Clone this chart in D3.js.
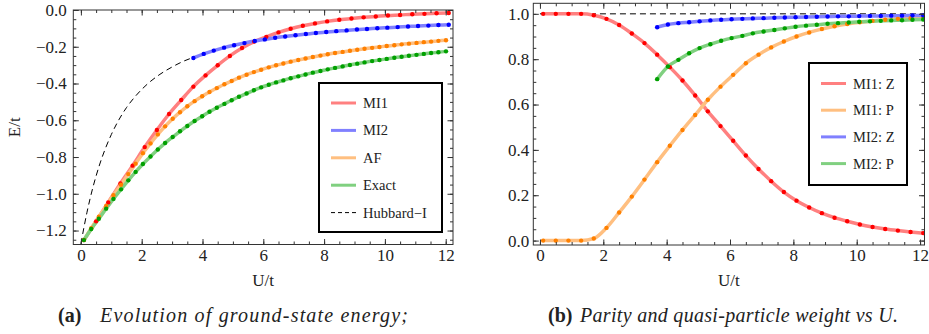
<!DOCTYPE html>
<html>
<head>
<meta charset="utf-8">
<script src="https://cdn.jsdelivr.net/npm/d3@7"></script>
<style>
  body { margin: 0; background: #fff; }
  svg text { font-family: "Liberation Serif", "Times New Roman", serif; fill: #222; }
</style>
</head>
<body>
<svg id="chart" width="929" height="334"></svg>
<script>
// ---- panel (a): ground-state energy E/t vs U/t ----
var uDense = [0.10, 0.34, 0.59, 0.83, 1.07, 1.32, 1.56, 1.80, 2.04, 2.29,
              2.53, 2.77, 3.02, 3.26, 3.50, 3.74, 3.99, 4.23, 4.47, 4.72,
              4.96, 5.20, 5.45, 5.69, 5.93, 6.18, 6.42, 6.66, 6.90, 7.15,
              7.39, 7.63, 7.88, 8.12, 8.36, 8.61, 8.85, 9.09, 9.33, 9.58,
              9.82, 10.06, 10.31, 10.55, 10.79, 11.04, 11.28, 11.52, 11.76, 12.01];
var eExact = [-1.252, -1.192, -1.136, -1.081, -1.028, -0.976, -0.927, -0.881, -0.838, -0.797,
              -0.759, -0.724, -0.691, -0.660, -0.631, -0.604, -0.578, -0.554, -0.532, -0.511,
              -0.491, -0.472, -0.454, -0.437, -0.421, -0.407, -0.394, -0.383, -0.371, -0.361,
              -0.351, -0.341, -0.332, -0.323, -0.315, -0.307, -0.299, -0.292, -0.285, -0.278,
              -0.272, -0.266, -0.260, -0.254, -0.249, -0.244, -0.239, -0.234, -0.230, -0.225];
var eAF = [-1.252, -1.187, -1.125, -1.066, -1.008, -0.951, -0.893, -0.836, -0.779, -0.726,
           -0.677, -0.633, -0.592, -0.556, -0.524, -0.496, -0.469, -0.446, -0.425, -0.404,
           -0.386, -0.368, -0.352, -0.338, -0.325, -0.312, -0.301, -0.291, -0.281, -0.272,
           -0.264, -0.256, -0.248, -0.241, -0.234, -0.228, -0.222, -0.216, -0.211, -0.206,
           -0.201, -0.196, -0.192, -0.187, -0.183, -0.179, -0.175, -0.172, -0.168, -0.165];
var uMI1 = [0.1, 0.5, 0.9, 1.3, 1.7, 2.1, 2.5, 2.9, 3.3, 3.7, 4.1, 4.5, 4.9, 5.3, 5.7, 6.1,
            6.5, 6.9, 7.3, 7.7, 8.1, 8.5, 8.9, 9.3, 9.7, 10.1, 10.5, 10.9, 11.3, 11.7, 12.1];
var eMI1 = [-1.252, -1.150, -1.047, -0.944, -0.847, -0.746, -0.653, -0.566, -0.490, -0.417,
            -0.356, -0.301, -0.250, -0.207, -0.172, -0.146, -0.122, -0.102, -0.086, -0.073,
            -0.062, -0.053, -0.046, -0.040, -0.035, -0.030, -0.027, -0.023, -0.021, -0.018, -0.016];
var uMI2 = [3.70, 4.04, 4.37, 4.71, 5.04, 5.38, 5.72, 6.05, 6.39, 6.72, 7.06, 7.40, 7.73,
            8.07, 8.40, 8.74, 9.08, 9.41, 9.75, 10.08, 10.42, 10.76, 11.09, 11.43, 11.76, 12.10];
var eMI2 = [-0.261, -0.239, -0.221, -0.205, -0.192, -0.180, -0.169, -0.160, -0.151, -0.144,
            -0.137, -0.131, -0.125, -0.120, -0.115, -0.111, -0.106, -0.103, -0.099, -0.096,
            -0.093, -0.090, -0.087, -0.085, -0.082, -0.080];
var uHub = [0, 0.1, 0.2, 0.3, 0.4, 0.5, 0.6, 0.8, 1.0, 1.2, 1.5, 1.8, 2.2, 2.6, 3.0, 3.4, 3.7];
var eHub = [-1.273, -1.183, -1.101, -1.028, -0.962, -0.903, -0.849, -0.756, -0.678, -0.612,
            -0.531, -0.468, -0.401, -0.350, -0.310, -0.277, -0.258];

// ---- panel (b): parity Z and quasi-particle weight P vs U/t ----
var zMI1 = [1.000, 1.000, 1.000, 1.000, 0.994, 0.978, 0.951, 0.913, 0.871, 0.820, 0.765,
            0.706, 0.640, 0.570, 0.505, 0.440, 0.375, 0.316, 0.262, 0.214, 0.176, 0.146,
            0.121, 0.101, 0.085, 0.071, 0.060, 0.051, 0.044, 0.038, 0.033];
var pMI1 = [0.000, 0.000, 0.000, 0.000, 0.009, 0.056, 0.124, 0.194, 0.269, 0.346, 0.418,
            0.488, 0.554, 0.621, 0.679, 0.731, 0.782, 0.820, 0.852, 0.878, 0.900, 0.918,
            0.933, 0.945, 0.955, 0.963, 0.969, 0.974, 0.978, 0.981, 0.983];
var zMI2 = [0.941, 0.953, 0.959, 0.963, 0.967, 0.971, 0.974, 0.976, 0.978, 0.980, 0.981,
            0.983, 0.984, 0.985, 0.986, 0.987, 0.988, 0.989, 0.989, 0.990, 0.991, 0.991,
            0.992, 0.992, 0.993, 0.993];
var pMI2 = [0.712, 0.768, 0.797, 0.826, 0.849, 0.866, 0.881, 0.893, 0.903, 0.914, 0.922,
            0.929, 0.936, 0.943, 0.948, 0.952, 0.956, 0.959, 0.962, 0.965, 0.967, 0.969,
            0.971, 0.972, 0.974, 0.975];
var uRef = [0, 12.2];
var zRef = [1, 1];

// ticks
var xMajor = [0, 2, 4, 6, 8, 10, 12];
var xMinor = d3.range(0, 12.01, 0.5);
var yMajorA = [-1.2, -1.0, -0.8, -0.6, -0.4, -0.2, 0.0];
var yMinorA = d3.range(-1.25, 0.001, 0.05);
var yMajorB = [0.0, 0.2, 0.4, 0.6, 0.8, 1.0];
var yMinorB = d3.range(0, 1.001, 0.05);

var labelsA = ["MI1", "MI2", "AF", "Exact", "Hubbard\u2212I"];
var labelsB = ["MI1: Z", "MI1: P", "MI2: Z", "MI2: P"];

var red = { line: "#ff8080", dot: "#ff0000" },
    blue = { line: "#8080ff", dot: "#0000ff" },
    orange = { line: "#ffbf80", dot: "#ff8000" },
    green = { line: "#80d080", dot: "#00a000" };

var svg = d3.select("#chart");

function zip(us, vs) {
    return us.map(function(u, i) { return [u, vs[i]]; });
}

function drawPanel(cfg) {
    var x = d3.scaleLinear().domain(cfg.xDomain).range(cfg.xRange);
    var y = d3.scaleLinear().domain(cfg.yDomain).range(cfg.yRange);
    var g = svg.append("g");
    var x0 = cfg.xRange[0], x1 = cfg.xRange[1], y0 = cfg.yRange[1], y1 = cfg.yRange[0];

    g.append("clipPath").attr("id", cfg.id + "clip")
        .append("rect").attr("x", x0).attr("y", y0).attr("width", x1 - x0).attr("height", y1 - y0);
    var plot = g.append("g").attr("clip-path", "url(#" + cfg.id + "clip)");

    var line = d3.line().x(function(d) { return x(d[0]); }).y(function(d) { return y(d[1]); })
        .curve(d3.curveMonotoneX);

    cfg.series.forEach(function(s) {
        if (s.dashed) {
            plot.append("path").attr("d", line(s.data)).attr("fill", "none")
                .attr("stroke", "#000").attr("stroke-width", 1).attr("stroke-dasharray", "6,4");
        } else {
            plot.append("path").attr("d", line(s.data)).attr("fill", "none")
                .attr("stroke", s.color.line).attr("stroke-width", 3.5);
        }
    });
    cfg.series.forEach(function(s) {
        if (s.dashed) return;
        plot.append("g").selectAll("circle").data(s.data).enter().append("circle")
            .attr("cx", function(d) { return x(d[0]); })
            .attr("cy", function(d) { return y(d[1]); })
            .attr("r", 2.2).attr("fill", s.color.dot);
    });

    // frame ticks (inward on all four sides)
    function styleAxis(a) {
        a.attr("font-family", null);
        a.select(".domain").remove();
        a.selectAll("line").attr("stroke", "#333");
        a.selectAll("text").attr("font-size", "17px").attr("fill", "#222")
            .style("font-family", "'Liberation Serif', serif");
    }
    var fmtY = cfg.yFormat;
    g.append("g").attr("transform", "translate(0," + y1 + ")")
        .call(d3.axisBottom(x).tickValues(xMinor).tickSize(-3).tickFormat("")).call(styleAxis);
    g.append("g").attr("transform", "translate(0," + y1 + ")")
        .call(d3.axisBottom(x).tickValues(xMajor).tickSize(-5.5).tickPadding(4).tickFormat(d3.format("d")))
        .call(styleAxis);
    g.append("g").attr("transform", "translate(0," + y0 + ")")
        .call(d3.axisTop(x).tickValues(xMinor).tickSize(-3).tickFormat("")).call(styleAxis);
    g.append("g").attr("transform", "translate(0," + y0 + ")")
        .call(d3.axisTop(x).tickValues(xMajor).tickSize(-5.5).tickFormat("")).call(styleAxis);
    g.append("g").attr("transform", "translate(" + x0 + ",0)")
        .call(d3.axisLeft(y).tickValues(cfg.yMinor).tickSize(-3).tickFormat("")).call(styleAxis);
    g.append("g").attr("transform", "translate(" + x0 + ",0)")
        .call(d3.axisLeft(y).tickValues(cfg.yMajor).tickSize(-5.5).tickPadding(cfg.yPad).tickFormat(fmtY))
        .call(styleAxis);
    g.append("g").attr("transform", "translate(" + x1 + ",0)")
        .call(d3.axisRight(y).tickValues(cfg.yMinor).tickSize(-3).tickFormat("")).call(styleAxis);
    g.append("g").attr("transform", "translate(" + x1 + ",0)")
        .call(d3.axisRight(y).tickValues(cfg.yMajor).tickSize(-5.5).tickFormat("")).call(styleAxis);

    g.append("rect").attr("x", x0).attr("y", y0).attr("width", x1 - x0).attr("height", y1 - y0)
        .attr("fill", "none").attr("stroke", "#333").attr("stroke-width", 1);

    // axis labels
    g.append("text").attr("x", (x0 + x1) / 2).attr("y", 286).attr("text-anchor", "middle")
        .attr("font-size", "17px").text("U/t");
    if (cfg.yLabel) {
        g.append("text").attr("transform", "translate(20," + (y0 + y1) / 2 + ") rotate(-90)")
            .attr("text-anchor", "middle").attr("font-size", "17px").text(cfg.yLabel);
    }

    // legend
    var lg = cfg.legend;
    g.append("rect").attr("x", lg.x).attr("y", lg.y).attr("width", lg.w).attr("height", lg.h)
        .attr("fill", "#fff").attr("stroke", "#000").attr("stroke-width", 2);
    lg.items.forEach(function(it, i) {
        var yy = lg.y + lg.first + i * lg.step;
        var ln = g.append("line").attr("x1", lg.x + lg.lx).attr("x2", lg.x + lg.lx + 25)
            .attr("y1", yy).attr("y2", yy);
        if (it.dashed) {
            ln.attr("stroke", "#000").attr("stroke-width", 1).attr("stroke-dasharray", "4,3");
        } else {
            ln.attr("stroke", it.color.line).attr("stroke-width", 3);
        }
        g.append("text").attr("x", lg.x + lg.lx + 32).attr("y", yy).attr("dy", "0.35em")
            .attr("font-size", "14.5px").text(it.label);
    });
}

drawPanel({
    id: "a",
    xDomain: [-0.25, 12.24], xRange: [73.3, 453],
    yDomain: [-1.276, 0], yRange: [244.5, 10],
    yMajor: yMajorA, yMinor: yMinorA, yPad: 6.5, yLabel: "E/t",
    yFormat: d3.format(".1f"),
    series: [
        { data: zip(uHub, eHub), dashed: true },
        { data: zip(uMI1, eMI1), color: red },
        { data: zip(uMI2, eMI2), color: blue },
        { data: zip(uDense, eAF), color: orange },
        { data: zip(uDense, eExact), color: green }
    ],
    legend: {
        x: 319, y: 83, w: 123, h: 149, first: 20, step: 27.4, lx: 12,
        items: [
            { label: labelsA[0], color: red },
            { label: labelsA[1], color: blue },
            { label: labelsA[2], color: orange },
            { label: labelsA[3], color: green },
            { label: labelsA[4], dashed: true }
        ]
    }
});

drawPanel({
    id: "b",
    xDomain: [-0.21, 12.14], xRange: [533.3, 924.5],
    yDomain: [-0.0195, 1.0465], yRange: [245, 3.3],
    yMajor: yMajorB, yMinor: yMinorB, yPad: 4, yLabel: null,
    yFormat: d3.format(".1f"),
    series: [
        { data: zip(uRef, zRef), dashed: true },
        { data: zip(uMI1, zMI1), color: red },
        { data: zip(uMI1, pMI1), color: orange },
        { data: zip(uMI2, zMI2), color: blue },
        { data: zip(uMI2, pMI2), color: green }
    ],
    legend: {
        x: 809, y: 63, w: 98, h: 122, first: 20.5, step: 26.7, lx: 12,
        items: [
            { label: labelsB[0], color: red },
            { label: labelsB[1], color: orange },
            { label: labelsB[2], color: blue },
            { label: labelsB[3], color: green }
        ]
    }
});

// captions
function caption(tag, xTag, body, xBody, len) {
    svg.append("text").attr("x", xTag).attr("y", 321.5).attr("font-size", "20px")
        .attr("font-weight", "bold").text(tag);
    svg.append("text").attr("x", xBody).attr("y", 321.5).attr("font-size", "20px")
        .attr("font-style", "italic").attr("textLength", len).attr("lengthAdjust", "spacing")
        .text(body);
}
caption("(a)", 58, "Evolution of ground-state energy;", 100, 308);
caption("(b)", 548, "Parity and quasi-particle weight vs U.", 580, 318);
</script>
</body>
</html>
